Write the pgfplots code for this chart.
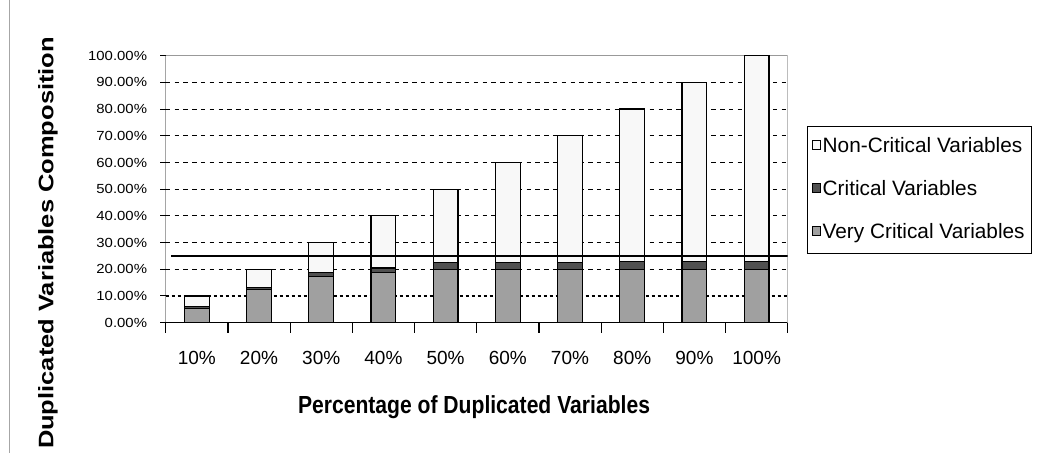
\documentclass[border=0pt]{standalone}
\usepackage{pgfplots}
\pgfplotsset{compat=1.18}
\usepackage{fontspec}
\setmainfont{Liberation Sans}
\usepackage{graphicx}
\definecolor{vc}{HTML}{A0A0A0}
\definecolor{cr}{HTML}{505050}
\definecolor{nc}{HTML}{F8F8F8}
\newcommand{\ytl}[1]{\scalebox{1.13}[1]{#1}}
\begin{document}
\begin{tikzpicture}
\path[use as bounding box, fill=white] (0,0) rectangle (526.5pt,226.5pt);
\draw[gray!70, line width=0.5pt] (4.5pt,0) -- (4.5pt,226.5pt);
\begin{axis}[
  at={(82.85pt,65.15pt)}, anchor=south west,
  scale only axis, width=311pt, height=133.5pt,
  xmin=0.5, xmax=10.5, ymin=0, ymax=100,
  ybar stacked, bar width=0.4,
  axis line style={draw=none},
  tick align=outside,
  tick pos=left,
  major tick length=2.8pt,
  xtick={1,...,10},
  xticklabels={10\%,20\%,30\%,40\%,50\%,60\%,70\%,80\%,90\%,100\%},
  xtick style={draw=none},
  xticklabel style={font=\fontsize{9.5}{11}\selectfont, yshift=-7.8pt},
  extra x ticks={0.5,1.5,...,10.5},
  extra x tick labels={},
  extra x tick style={xtick style={draw=black,line width=0.6pt}, major tick length=5pt, grid=none},
  ytick={0,10,...,100},
  yticklabels={\ytl{0.00\%},\ytl{10.00\%},\ytl{20.00\%},\ytl{30.00\%},\ytl{40.00\%},\ytl{50.00\%},\ytl{60.00\%},\ytl{70.00\%},\ytl{80.00\%},\ytl{90.00\%},\ytl{100.00\%}},
  yticklabel style={font=\fontsize{6.6}{7}\selectfont, xshift=-3pt},
  ytick style={draw=black, line width=0.5pt},
  minor ytick={10}, yminorgrids=true,
  minor grid style={black, line width=1.3pt, dash pattern=on 1.6pt off 1.4pt},
  minor tick length=0pt,
  extra y ticks={20,30,...,90}, extra y tick labels={},
  extra y tick style={grid=major},
  major grid style={black, line width=0.5pt, dash pattern=on 2.2pt off 2.2pt},
  reverse legend,
  legend cell align=left,
  legend style={at={(1.031,0.7367)}, anchor=north west, draw=black, line width=0.5pt,
    inner xsep=2pt, inner ysep=4.5pt, row sep=10pt, font=\fontsize{10.4}{12}\selectfont,
    nodes={text height=7.5pt, text depth=2pt, inner ysep=1pt, inner xsep=1.2pt}},
  legend image code/.code={\draw[#1, line width=0.4pt] (0pt,-1pt) rectangle (4pt,3.5pt);},
]
\addplot[fill=vc, draw=black, line width=0.6pt] coordinates {(1,5.2) (2,12.5) (3,17.4) (4,18.8) (5,19.8) (6,19.8) (7,19.8) (8,20) (9,20) (10,20)};
\addlegendentry{Very Critical Variables}
\addplot[fill=cr, draw=black, line width=0.6pt] coordinates {(1,1.0) (2,0.8) (3,1.5) (4,1.7) (5,2.7) (6,2.7) (7,2.7) (8,3) (9,3) (10,3)};
\addlegendentry{Critical Variables}
\addplot[fill=nc, draw=black, line width=0.6pt] coordinates {(1,3.8) (2,6.7) (3,11.1) (4,19.5) (5,27.5) (6,37.5) (7,47.5) (8,57) (9,67) (10,77)};
\addlegendentry{Non-Critical Variables}
\draw[color=gray!80, line width=0.6pt] (rel axis cs:0,1) -- (rel axis cs:1,1) -- (rel axis cs:1,0);
\draw[black, line width=0.7pt] (rel axis cs:0,0) -- (rel axis cs:0,1);
\draw[black, line width=1.1pt] (rel axis cs:0,0) -- (rel axis cs:1,0);
\end{axis}
\begin{axis}[
  at={(82.85pt,65.15pt)}, anchor=south west,
  scale only axis, width=311pt, height=133.5pt,
  xmin=0.5, xmax=10.5, ymin=0, ymax=100, hide axis]
\addplot[black, line width=1.1pt, mark=none] coordinates {(0.59,25) (10.5,25)};
\end{axis}
\node[rotate=90, anchor=base] at (26.65pt,105pt) {\resizebox{206pt}{\height}{\fontsize{10.5}{12}\selectfont\bfseries Duplicated Variables Composition}};
\node[anchor=base] at (237pt,19.85pt) {\resizebox{176pt}{\height}{\fontsize{12.35}{14}\selectfont\bfseries Percentage of Duplicated Variables}};
\end{tikzpicture}
\end{document}
